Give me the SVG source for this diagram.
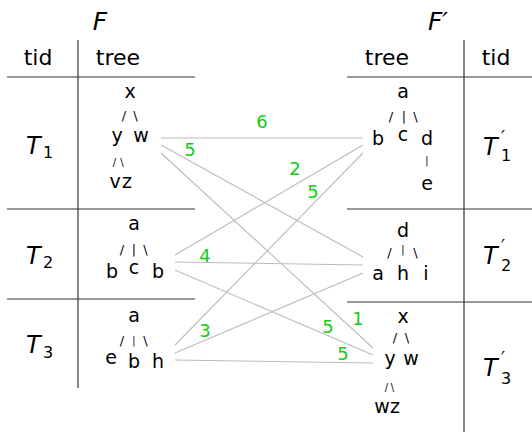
<svg xmlns="http://www.w3.org/2000/svg" width="532" height="432" viewBox="0 0 532 432">
<defs>
<filter id="gray" x="-50%" y="-50%" width="200%" height="200%"><feColorMatrix type="saturate" values="0"/></filter>
</defs>
<style>
.tl{stroke:#333;stroke-width:1.2;fill:none}
.cn{stroke:#bbb;stroke-width:1.1;fill:none}
text{font-family:"DejaVu Sans",sans-serif;fill:#000;text-anchor:middle}
.h{font-size:22px}
.ti{font-size:25px;font-style:italic}
.T{font-size:24px;font-style:italic;text-anchor:start}
.s{font-size:16px;text-anchor:start}
.p{font-size:17px;font-style:italic;text-anchor:start}
.n{font-size:19px}
.sl{font-size:13px}
.sm{font-size:10px}
.v{filter:url(#gray)}
.w{font-size:18px;fill:#11cc11}
</style>
<g id="table-F">
<text class="ti" x="100" y="30">F</text>
<text class="h" x="38" y="65">tid</text>
<text class="h" x="118" y="65">tree</text>
<line class="tl" x1="78" y1="40" x2="78" y2="388"/>
<line class="tl" x1="7" y1="77" x2="195" y2="77"/>
<line class="tl" x1="7" y1="209" x2="195" y2="209"/>
<line class="tl" x1="7" y1="299" x2="195" y2="299"/>
</g>
<g id="table-Fp">
<text class="ti" x="438" y="30">F′</text>
<text class="h" x="387" y="65">tree</text>
<text class="h" x="496" y="65">tid</text>
<line class="tl" x1="464" y1="40" x2="464" y2="432"/>
<line class="tl" x1="347" y1="77" x2="532" y2="77"/>
<line class="tl" x1="347" y1="209" x2="532" y2="209"/>
<line class="tl" x1="347" y1="302" x2="532" y2="302"/>
</g>
<g id="T1">
<text class="T" x="26" y="154">T</text><text class="s" x="43" y="158">1</text>
<text class="n" x="130" y="98">x</text>
<text class="sl" x="124" y="120">/</text><text class="sl" x="135.5" y="120">\</text>
<text class="n" x="117" y="142">y</text><text class="n" x="141" y="142">w</text>
<text class="sm" x="114.5" y="166">/</text><text class="sm" x="122" y="166">\</text>
<text class="n" x="115" y="188">v</text><text class="n" x="127" y="188">z</text>
</g>
<g id="T2">
<text class="T" x="26" y="264">T</text><text class="s" x="43" y="268">2</text>
<text class="n" x="134" y="230">a</text>
<text class="sl" x="122" y="254">/</text><text class="sl v" x="134" y="254">|</text><text class="sl" x="145.5" y="254">\</text>
<text class="n" x="112" y="278">b</text><text class="n" x="134" y="274">c</text><text class="n" x="158" y="278">b</text>
</g>
<g id="T3">
<text class="T" x="26" y="353">T</text><text class="s" x="43" y="358">3</text>
<text class="n" x="134" y="322">a</text>
<text class="sl" x="122" y="345">/</text><text class="sm v" x="134" y="344">|</text><text class="sl" x="145.5" y="345">\</text>
<text class="n" x="111" y="364">e</text><text class="n" x="134" y="368">b</text><text class="n" x="158" y="368">h</text>
</g>
<g id="T1p">
<text class="T" x="483" y="155">T</text><text class="p" x="501" y="143">′</text><text class="s" x="501" y="161">1</text>
<text class="n" x="403" y="98">a</text>
<text class="sl" x="391" y="121">/</text><text class="sl v" x="404" y="121">|</text><text class="sl" x="415.5" y="121">\</text>
<text class="n" x="378" y="145">b</text><text class="n" x="403" y="141">c</text><text class="n" x="427" y="145">d</text>
<text class="sm v" x="427" y="164">|</text>
<text class="n" x="427" y="190">e</text>
</g>
<g id="T2p">
<text class="T" x="483" y="264">T</text><text class="p" x="501" y="252">′</text><text class="s" x="501" y="271">2</text>
<text class="n" x="403" y="237">d</text>
<text class="sl" x="389.5" y="257">/</text><text class="sm v" x="403" y="253">|</text><text class="sl" x="415.5" y="257">\</text>
<text class="n" x="378" y="280">a</text><text class="n" x="403" y="280">h</text><text class="n" x="426" y="280">i</text>
</g>
<g id="T3p">
<text class="T" x="483" y="376">T</text><text class="p" x="501" y="364">′</text><text class="s" x="501" y="384">3</text>
<text class="n" x="403" y="323">x</text>
<text class="sl" x="395" y="342">/</text><text class="sl" x="407" y="342">\</text>
<text class="n" x="390" y="365">y</text><text class="n" x="411" y="365">w</text>
<text class="sm" x="386.5" y="391">/</text><text class="sm" x="392.5" y="391">\</text>
<text class="n" x="382" y="413">w</text><text class="n" x="395" y="413">z</text>
</g>
<g id="connectors">
<line class="cn" x1="161" y1="138" x2="363" y2="138"/>
<line class="cn" x1="161" y1="145" x2="363" y2="257"/>
<line class="cn" x1="161" y1="153" x2="373" y2="348"/>
<line class="cn" x1="363" y1="145" x2="175" y2="255"/>
<line class="cn" x1="363" y1="153" x2="175" y2="345"/>
<line class="cn" x1="175" y1="262" x2="363" y2="265"/>
<line class="cn" x1="175" y1="270" x2="373" y2="355"/>
<line class="cn" x1="175" y1="353" x2="363" y2="273"/>
<line class="cn" x1="175" y1="360" x2="373" y2="363"/>
<text class="w" x="262" y="128">6</text>
<text class="w" x="190" y="156">5</text>
<text class="w" x="295" y="175">2</text>
<text class="w" x="313" y="198">5</text>
<text class="w" x="205" y="262">4</text>
<text class="w" x="205" y="337">3</text>
<text class="w" x="328" y="333">5</text>
<text class="w" x="358" y="325">1</text>
<text class="w" x="343" y="360">5</text>
</g>
</svg>
